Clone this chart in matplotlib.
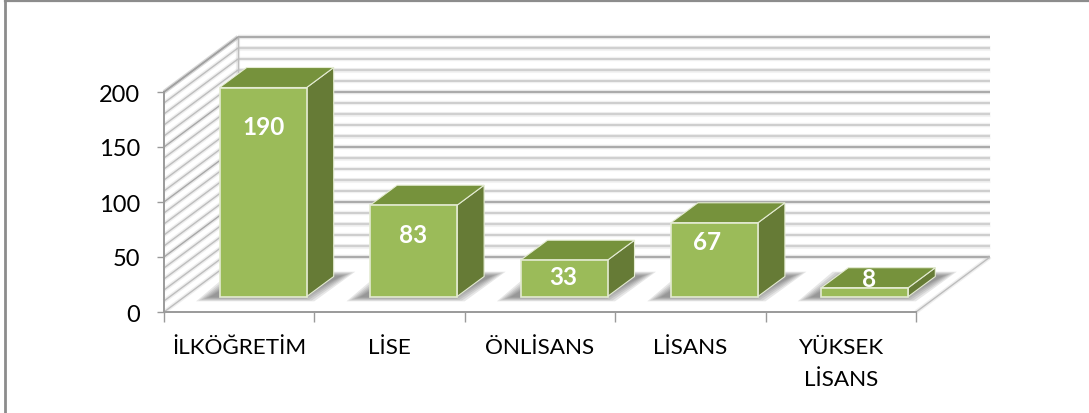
# libraries
import matplotlib.pyplot as plt
from matplotlib.patches import Polygon

plt.rcParams['font.family'] = ['Lato', 'DejaVu Sans']

W, H = 1089, 414
FILE_OUT = "out.png"

categories = ["İLKÖĞRETİM", "LİSE", "ÖNLİSANS", "LİSANS", "YÜKSEK\nLİSANS"]
values = [190, 83, 33, 67, 8]
y_ticks = [0, 50, 100, 150, 200]
grid_values = list(range(10, 201, 10))

# front plane of the fake 3D box, in pixels
LEFT, RIGHT, TOP, BOTTOM = 164, 916, 93, 313

FRONT = "#9BBB59"
TOP_FACE = "#76923C"
SIDE = "#667B36"
EDGE = "#E4EBD2"
AXIS = "#9A9A9A"

# hand placed value labels, pixels from the bar's top edge
LABEL_DROP = [39, 29, 16, 19, -9]
LABEL_SHIFT = [0, -1, -1, -7, 4]

fig = plt.figure(figsize=(W / 100, H / 100), dpi=100)
ax = fig.add_axes([LEFT / W, 1 - BOTTOM / H, (RIGHT - LEFT) / W, (BOTTOM - TOP) / H])
ax.set_xlim(0, 5)
ax.set_ylim(0, 200)

# depth vectors in data units
px_x = 5 / (RIGHT - LEFT)
px_y = 200 / (BOTTOM - TOP)
WALL_DX, WALL_DY = 74 * px_x, 55 * px_y
BAR_DX, BAR_DY = 27 * px_x, 20 * px_y
BASE_DX, BASE_DY = 24 * px_x, 15.5 * px_y
BAR_W = 87 * px_x


def blur_line(xs, ys, color, lw, z):
    # the reference is a blurry bitmap, so every line gets a soft halo
    ax.plot(xs, ys, color=color, lw=lw + 2, alpha=0.25, clip_on=False, zorder=z,
            solid_capstyle='butt')
    ax.plot(xs, ys, color=color, lw=lw, clip_on=False, zorder=z,
            solid_capstyle='butt')


# grid on back wall and side wall
for v in grid_values:
    major = v % 50 == 0
    if major:
        color, lw = "#A0A0A0", 1.2
    elif v % 20 == 0:
        color, lw = "#C4C4C4", 1.1
    else:
        color, lw = "#D0D0D0", 1.7
    blur_line([WALL_DX, 5 + WALL_DX], [v + WALL_DY, v + WALL_DY], color, lw, 1)
    blur_line([0, WALL_DX], [v, v + WALL_DY], "#A8A8A8" if major else "#BEBEBE", 1.0, 1)

# floor and box edges
blur_line([WALL_DX, WALL_DX], [WALL_DY, 200 + WALL_DY], "#BDBDBD", 1.0, 1)
blur_line([0, WALL_DX], [200, 200 + WALL_DY], "#A0A0A0", 1.1, 1)
ax.add_patch(Polygon([(0, 0), (5, 0), (5 + WALL_DX, WALL_DY), (WALL_DX, WALL_DY)],
                     closed=True, fc="white", ec="none", clip_on=False, zorder=1.5))
blur_line([0, WALL_DX], [0, WALL_DY], "#BDBDBD", 1.0, 1.6)
blur_line([WALL_DX, 5 + WALL_DX], [WALL_DY, WALL_DY], "#A0A0A0", 1.2, 1.6)
blur_line([5, 5 + WALL_DX], [0, WALL_DY], "#BDBDBD", 1.0, 1.6)

# bars
for i, v in enumerate(values):
    x0 = i + 0.5 - BAR_W / 2 + BASE_DX
    x1 = x0 + BAR_W
    y0 = BASE_DY
    y1 = y0 + v

    # soft floor shadow
    for k in range(6):
        grow = (6 - k) * 2.6 * px_x
        grow_y = (6 - k) * 0.8 * px_y
        ax.add_patch(Polygon([(x0 - grow - 8 * px_x, y0 - grow_y),
                              (x1 + grow - 8 * px_x, y0 - grow_y),
                              (x1 + BAR_DX + grow + 6 * px_x, y0 + BAR_DY + grow_y),
                              (x0 + BAR_DX - grow, y0 + BAR_DY + grow_y)],
                             closed=True, fc="#555555", ec="none", alpha=0.14,
                             clip_on=False, zorder=2))

    ax.add_patch(Polygon([(x1, y0), (x1 + BAR_DX, y0 + BAR_DY),
                          (x1 + BAR_DX, y1 + BAR_DY), (x1, y1)],
                         closed=True, fc=SIDE, ec=EDGE, lw=0.8, clip_on=False, zorder=3))
    ax.add_patch(Polygon([(x0, y1), (x1, y1), (x1 + BAR_DX, y1 + BAR_DY),
                          (x0 + BAR_DX, y1 + BAR_DY)],
                         closed=True, fc=TOP_FACE, ec=EDGE, lw=0.8, clip_on=False, zorder=3))
    ax.add_patch(Polygon([(x0, y0), (x1, y0), (x1, y1), (x0, y1)],
                         closed=True, fc=FRONT, ec=EDGE, lw=1.2, clip_on=False, zorder=4))

    ax.text((x0 + x1) / 2 + LABEL_SHIFT[i] * px_x, y1 - LABEL_DROP[i] * px_y, str(v),
            color="white", fontsize=17.5, fontweight='bold', ha='center', va='center',
            zorder=5, clip_on=False)

ax.set_facecolor("none")
for s in ['top', 'right']:
    ax.spines[s].set_visible(False)
for s in ['left', 'bottom']:
    ax.spines[s].set_color(AXIS)
    ax.spines[s].set_linewidth(1.4)
    ax.spines[s].set_zorder(6)

ax.set_yticks(y_ticks)
ax.tick_params(axis='y', length=5, width=1.0, color=AXIS, pad=12, labelsize=17, labelcolor="black")
ax.set_xticks(range(6))
ax.set_xticklabels([""] * 6)
ax.tick_params(axis='x', which='major', length=7, width=1.0, color=AXIS)
ax.set_xticks([i + 0.5 for i in range(5)], categories, minor=True, linespacing=1.75)
ax.tick_params(axis='x', which='minor', length=0, pad=18, labelsize=16.2, labelcolor="black")

# picture frame: only top and left show in the crop
fig.add_artist(plt.Line2D([5 / W, 5 / W], [0, 1 - 2 / H], color="#8C8C8C", lw=2.0))
fig.add_artist(plt.Line2D([5 / W, 1], [1 - 2 / H, 1 - 2 / H], color="#8C8C8C", lw=1.6))

fig.savefig(FILE_OUT, dpi=100)
